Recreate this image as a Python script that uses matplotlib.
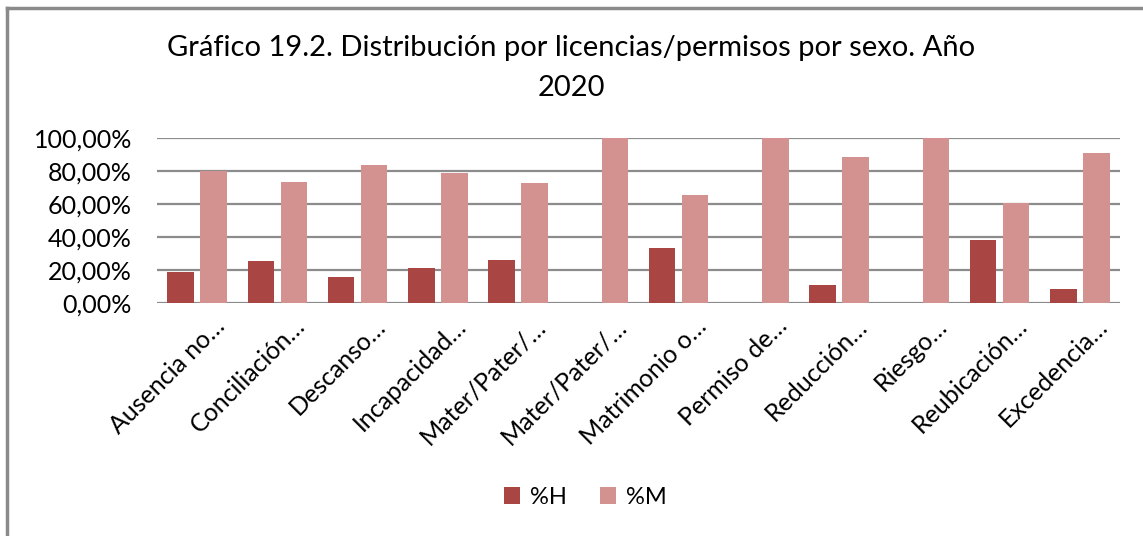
import matplotlib
matplotlib.use("Agg")
import matplotlib.pyplot as plt
from matplotlib.lines import Line2D
from matplotlib.ticker import FuncFormatter, MultipleLocator
from matplotlib.transforms import ScaledTranslation
import numpy as np

categories = ["Ausencia no…", "Conciliación…", "Descanso…", "Incapacidad…",
              "Mater/Pater/…", "Mater/Pater/…", "Matrimonio o…", "Permiso de…",
              "Reducción…", "Riesgo…", "Reubicación…", "Excedencia…"]
pct_h = [18.8, 25.5, 15.8, 21.2, 26.1, 0.0, 33.3, 0.0, 10.9, 0.0, 38.2, 8.5]
pct_m = [80.0, 73.3, 83.6, 78.8, 72.7, 100.0, 65.5, 100.0, 88.5, 100.0, 60.6, 90.9]
series_names = ["%H", "%M"]
title_line1 = "Gráfico 19.2. Distribución por licencias/permisos por sexo. Año"
title_line2 = "2020"

col_h = "#A94543"
col_m = "#D39190"
font = "Lato"

fig = plt.figure(figsize=(11.43, 5.36), dpi=100)
ax = fig.add_axes([157/1143, 1-303/536, (1120-157)/1143, (303-138)/536])

x = np.arange(len(categories))
w = 0.33
off = 0.205
bh = ax.bar(x - off, pct_h, w, color=col_h, label=series_names[0], zorder=3)
bm = ax.bar(x + off, pct_m, w, color=col_m, label=series_names[1], zorder=3)

ax.set_xlim(-0.5, len(categories) - 0.5)
ax.set_ylim(0, 100)
ax.yaxis.set_major_locator(MultipleLocator(20))
ax.yaxis.set_major_formatter(FuncFormatter(lambda v, p: f"{v:.2f}%".replace(".", ",")))
ax.grid(axis="y", color="#8c8c8c", linewidth=1.6, zorder=0)
for s in ["top", "right", "left", "bottom"]:
    ax.spines[s].set_visible(False)
ax.tick_params(axis="both", length=0)
ax.tick_params(axis="y", pad=18, labelsize=18)
ax.set_xticks(x)
ax.set_xticklabels(categories, rotation=45, ha="right", rotation_mode="anchor",
                   fontsize=18, family=font)
ax.tick_params(axis="x", pad=8)
shift = ScaledTranslation(16/100, 0, fig.dpi_scale_trans)
for lbl in ax.get_xticklabels():
    lbl.set_transform(lbl.get_transform() + shift)
for lbl in ax.get_yticklabels():
    lbl.set_family(font)

fig.text(0.5, 1-48/536, title_line1, ha="center", va="center", fontsize=21, family=font)
fig.text(0.5, 1-88/536, title_line2, ha="center", va="center", fontsize=21, family=font)

leg = fig.legend(handles=[bh, bm], labels=series_names, loc="center",
                 bbox_to_anchor=(585/1143, 1-497/536), ncol=2, frameon=False,
                 prop={"family": font, "size": 17}, handlelength=0.7, handleheight=0.7,
                 handletextpad=0.4, columnspacing=1.4)

# outer frame
fig.add_artist(Line2D([7/1143, 7/1143], [0, 1-8/536], transform=fig.transFigure,
                      color="#8a8a8a", linewidth=2.5))
fig.add_artist(Line2D([7/1143, 1], [1-8/536, 1-8/536], transform=fig.transFigure,
                      color="#8a8a8a", linewidth=2.5))

fig.savefig("out.png", dpi=100)
